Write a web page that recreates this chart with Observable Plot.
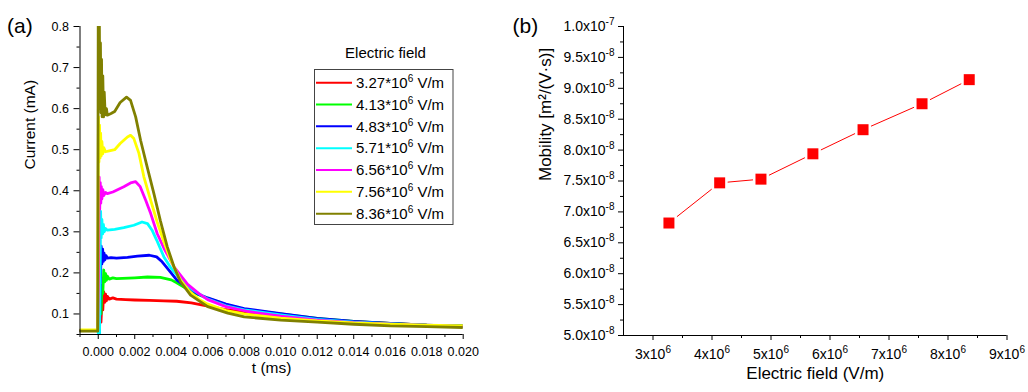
<!DOCTYPE html>
<html><head><meta charset="utf-8">
<script src="https://cdn.jsdelivr.net/npm/d3@7"></script>
<script src="https://cdn.jsdelivr.net/npm/@observablehq/plot@0.6"></script>
<style>
body{margin:0;background:#fff;font-family:'Liberation Sans',Arial,sans-serif;}
#fig{position:relative;width:1028px;height:392px;display:flex;}
#fig svg{display:block;}
</style></head><body><div id="fig"></div>
<script>
// ---------- Panel (a) data: current transients (t in ms, current in mA) ----------
const fields = ["3.27","4.13","4.83","5.71","6.56","7.56","8.36"];
const fieldColors = ["#ff0000","#00ff00","#0000ff","#00ffff","#ff00ff","#ffff00","#808000"];

const current327 = [[-0.001,0.060],[-0.00003,0.060],[0.00005,0.06],[0.0001,0.09],[0.00015,0.08],[0.0002,0.13],[0.00025,0.11],[0.0003,0.154],[0.00035,0.128],[0.0004,0.148],[0.00045,0.132],[0.0005,0.143],[0.0006,0.136],[0.0008,0.139],[0.001,0.136],[0.0015,0.135],[0.002,0.134],[0.0028,0.133],[0.0036,0.132],[0.0043,0.131],[0.0051,0.127],[0.0058,0.121],[0.0069,0.111],[0.0082,0.104],[0.010,0.096],[0.012,0.088],[0.014,0.081],[0.016,0.077],[0.018,0.073],[0.020,0.071]];
const current413 = [[-0.001,0.06],[-0.00003,0.06],[0.00005,0.07],[0.0001,0.12],[0.00015,0.1],[0.0002,0.17],[0.00025,0.15],[0.0003,0.207],[0.00035,0.178],[0.0004,0.198],[0.00045,0.182],[0.0005,0.192],[0.0006,0.185],[0.0008,0.188],[0.001,0.186],[0.002,0.188],[0.0027,0.19],[0.0034,0.189],[0.004,0.183],[0.0043,0.176],[0.0049,0.16],[0.0055,0.147],[0.006,0.138],[0.007,0.123],[0.008,0.111],[0.010,0.100],[0.012,0.089],[0.014,0.082],[0.016,0.077],[0.018,0.073],[0.020,0.071]];
const current483 = [[-0.001,0.06],[-0.00003,0.06],[0.00003,0.07],[0.00007,0.05],[0.0001,0.15],[0.00013,0.2],[0.00016,0.265],[0.0002,0.222],[0.00024,0.258],[0.00028,0.228],[0.00032,0.248],[0.00037,0.232],[0.00043,0.242],[0.0005,0.236],[0.0007,0.237],[0.001,0.236],[0.0016,0.238],[0.00215,0.241],[0.0028,0.243],[0.0032,0.239],[0.0035,0.227],[0.00387,0.207],[0.0043,0.183],[0.0049,0.163],[0.0055,0.148],[0.006,0.139],[0.007,0.124],[0.008,0.113],[0.010,0.101],[0.012,0.089],[0.014,0.082],[0.016,0.077],[0.018,0.073],[0.020,0.070]];
const current571 = [[-0.001,0.06],[-0.00003,0.06],[0.00002,0.05],[0.00007,0.05],[0.0001,0.18],[0.00013,0.35],[0.00016,0.285],[0.0002,0.33],[0.00024,0.295],[0.00028,0.318],[0.00033,0.3],[0.0004,0.308],[0.0005,0.304],[0.0009,0.306],[0.0014,0.31],[0.00195,0.316],[0.0024,0.324],[0.0027,0.32],[0.00295,0.304],[0.0032,0.28],[0.0036,0.239],[0.004,0.211],[0.0045,0.185],[0.0052,0.158],[0.006,0.136],[0.007,0.12],[0.008,0.110],[0.010,0.098],[0.012,0.087],[0.014,0.080],[0.016,0.076],[0.018,0.072],[0.020,0.070]];
const current656 = [[-0.001,0.06],[-0.00003,0.06],[0.00002,0.2],[0.00005,0.433],[0.00008,0.355],[0.00011,0.42],[0.00014,0.37],[0.00017,0.41],[0.0002,0.38],[0.00025,0.403],[0.0003,0.388],[0.0004,0.396],[0.0005,0.393],[0.0008,0.397],[0.0014,0.41],[0.00177,0.419],[0.00205,0.422],[0.0023,0.41],[0.0026,0.377],[0.00287,0.345],[0.00323,0.296],[0.0036,0.26],[0.00415,0.215],[0.0049,0.172],[0.0055,0.15],[0.006,0.135],[0.007,0.118],[0.0082,0.106],[0.010,0.095],[0.012,0.085],[0.014,0.079],[0.016,0.075],[0.018,0.072],[0.020,0.070]];
const current756 = [[-0.001,0.061],[-0.00003,0.061],[0.00001,0.58],[0.00004,0.47],[0.00007,0.56],[0.0001,0.48],[0.00013,0.54],[0.00016,0.485],[0.0002,0.52],[0.00025,0.49],[0.0003,0.505],[0.0004,0.495],[0.0006,0.497],[0.0009,0.5],[0.0012,0.515],[0.0016,0.531],[0.00177,0.535],[0.00195,0.527],[0.00223,0.491],[0.0025,0.434],[0.00287,0.377],[0.00323,0.324],[0.0036,0.276],[0.00397,0.231],[0.0045,0.183],[0.005,0.155],[0.0055,0.136],[0.006,0.124],[0.007,0.108],[0.008,0.100],[0.010,0.090],[0.012,0.083],[0.014,0.078],[0.016,0.075],[0.018,0.073],[0.020,0.071]];
const current836 = [[-0.001,0.058],[-0.00003,0.058],[0.0,0.85],[0.00003,0.62],[0.00006,0.82],[0.00009,0.6],[0.00012,0.76],[0.00015,0.59],[0.00018,0.72],[0.00021,0.58],[0.00025,0.68],[0.00029,0.58],[0.00033,0.64],[0.00038,0.585],[0.00045,0.6],[0.0005,0.584],[0.0007,0.588],[0.0009,0.593],[0.0012,0.615],[0.00155,0.628],[0.00177,0.62],[0.00205,0.58],[0.00232,0.523],[0.00268,0.458],[0.00305,0.393],[0.0034,0.328],[0.00378,0.264],[0.00415,0.215],[0.0045,0.179],[0.00506,0.146],[0.006,0.118],[0.0071,0.102],[0.008,0.093],[0.010,0.085],[0.012,0.080],[0.014,0.075],[0.016,0.071],[0.018,0.069],[0.020,0.067]];
const currentSeries = [current327, current413, current483, current571, current656, current756, current836];

const tDomain = [-0.001, 0.020];
const iDomain = [0.05, 0.8];
const tTicks = [0,0.002,0.004,0.006,0.008,0.010,0.012,0.014,0.016,0.018,0.020];
const tMinor = [-0.001,0.001,0.003,0.005,0.007,0.009,0.011,0.013,0.015,0.017,0.019];
const iTicks = [0.1,0.2,0.3,0.4,0.5,0.6,0.7,0.8];
const iMinor = [0.05,0.15,0.25,0.35,0.45,0.55,0.65,0.75];

// ---------- Panel (b) data: mobility vs field ----------
const efield = [3.27e6, 4.13e6, 4.83e6, 5.71e6, 6.56e6, 7.56e6, 8.36e6];
const mobility = [6.82e-8, 7.47e-8, 7.53e-8, 7.94e-8, 8.33e-8, 8.75e-8, 9.14e-8];
const eDomain = [2.5e6, 9e6];
const mDomain = [5.0e-8, 1.0e-7];
const eTicks = [3e6,4e6,5e6,6e6,7e6,8e6,9e6];
const eMinor = [3.5e6,4.5e6,5.5e6,6.5e6,7.5e6,8.5e6];
const mTicks = [5.0e-8,5.5e-8,6.0e-8,6.5e-8,7.0e-8,7.5e-8,8.0e-8,8.5e-8,9.0e-8,9.5e-8,1.0e-7];
const mMinor = [5.25e-8,5.75e-8,6.25e-8,6.75e-8,7.25e-8,7.75e-8,8.25e-8,8.75e-8,9.25e-8,9.75e-8];

const FONT = "'Liberation Sans', Arial, sans-serif";
const rows = currentSeries.flatMap((arr, k) => arr.map(([t, i]) => ({t, i, field: fields[k]})));

function supify(svg, supSize, shift) {
  d3.select(svg).selectAll("text").each(function() {
    const s = this.textContent;
    if (!s.includes("^")) return;
    const [base, exp] = s.split("^");
    const sel = d3.select(this);
    sel.text(base);
    sel.append("tspan").attr("dy", -shift).attr("font-size", supSize).text(exp);
  });
}

const plotA = Plot.plot({
  width: 500, height: 392,
  marginLeft: 79.5, marginRight: 37.3, marginTop: 26, marginBottom: 58,
  style: {fontFamily: FONT, fontSize: "12.5px", color: "#000", background: "#fff", overflow: "visible"},
  x: {domain: tDomain, label: null},
  y: {domain: iDomain, label: null},
  color: {domain: fields, range: fieldColors},
  marks: [
    Plot.line(rows, {x: "t", y: "i", z: "field", stroke: "field", strokeWidth: 2.8, clip: true}),
    Plot.ruleX([tDomain[0]], {stroke: "#000"}),
    Plot.ruleY([iDomain[0]], {stroke: "#000"}),
    Plot.axisX({ticks: tTicks, tickFormat: d3.format(".3f"), tickSize: 5, tickPadding: 7.5, label: null}),
    Plot.axisX({ticks: tMinor, tickFormat: () => "", tickSize: 3, label: null}),
    Plot.axisY({ticks: iTicks, tickFormat: d3.format(".1f"), tickSize: 6, tickPadding: 5, label: null}),
    Plot.axisY({ticks: iMinor, tickFormat: () => "", tickSize: 3, label: null}),
    Plot.text(["t (ms)"], {frameAnchor: "bottom", dy: 38, fontSize: 15.5}),
    Plot.text(["Current (mA)"], {frameAnchor: "left", dx: -50, dy: -11, rotate: -90, fontSize: 15.5}),
    Plot.text(["(a)"], {frameAnchor: "top-left", textAnchor: "start", dx: -73, dy: -8, fontSize: 21})
  ]
});

const ptsB = efield.map((e, k) => ({e, m: mobility[k]}));
const fmtM = d => d >= 0.99e-7 ? (d / 1e-7).toFixed(1) + "x10^-7" : (d / 1e-8).toFixed(1) + "x10^-8";
const plotB = Plot.plot({
  width: 528, height: 392,
  marginLeft: 123, marginRight: 21.5, marginTop: 26, marginBottom: 57,
  style: {fontFamily: FONT, fontSize: "14px", color: "#000", background: "#fff", overflow: "visible"},
  x: {domain: eDomain, label: null},
  y: {domain: mDomain, label: null},
  marks: [
    Plot.ruleX([eDomain[0]], {stroke: "#000"}),
    Plot.ruleY([mDomain[0]], {stroke: "#000"}),
    Plot.axisX({ticks: eTicks, tickFormat: d => `${Math.round(d / 1e6)}x10^6`, tickSize: 5, tickPadding: 9, label: null}),
    Plot.axisX({ticks: eMinor, tickFormat: () => "", tickSize: 3, label: null}),
    Plot.axisY({ticks: mTicks, tickFormat: fmtM, tickSize: 5, tickPadding: 4, label: null}),
    Plot.axisY({ticks: mMinor, tickFormat: () => "", tickSize: 3, label: null}),
    Plot.line(ptsB, {x: "e", y: "m", stroke: "#ff0000", strokeWidth: 1}),
    Plot.dot(ptsB, {x: "e", y: "m", symbol: "square", r: 6.2, fill: "#ff0000", stroke: "#fff", strokeWidth: 5, paintOrder: "stroke"}),
    Plot.text(["Electric field (V/m)"], {frameAnchor: "bottom", dy: 43, fontSize: 17}),
    Plot.text(["Mobility [m²/(V·s)]"], {frameAnchor: "left", dx: -78, rotate: -90, fontSize: 17}),
    Plot.text(["(b)"], {frameAnchor: "top-left", textAnchor: "start", dx: -111, dy: -8, fontSize: 21})
  ]
});
supify(plotB, 10, 6);

const fig = document.getElementById("fig");
fig.appendChild(plotA);
fig.appendChild(plotB);

// Legend for panel (a)
const leg = d3.select(fig).append("svg")
  .attr("width", 500).attr("height", 392)
  .style("position", "absolute").style("left", "0px").style("top", "0px")
  .attr("font-family", FONT);
leg.append("text").attr("x", 385.5).attr("y", 58).attr("text-anchor", "middle").attr("font-size", 15).text("Electric field");
leg.append("rect").attr("x", 314.5).attr("y", 69.5).attr("width", 138.5).attr("height", 155)
  .attr("fill", "none").attr("stroke", "#444").attr("stroke-width", 1);
fields.forEach((f, k) => {
  const y = 82.7 + k * 21.83;
  leg.append("line").attr("x1", 316).attr("x2", 352).attr("y1", y).attr("y2", y)
    .attr("stroke", fieldColors[k]).attr("stroke-width", 2);
  const tx = leg.append("text").attr("x", 356).attr("y", y + 5.3).attr("font-size", 15);
  tx.append("tspan").text(`${f}*10`);
  tx.append("tspan").attr("font-size", 10).attr("dy", -6).text("6");
  tx.append("tspan").attr("dy", 6).text(" V/m");
});
</script>
</body></html>
